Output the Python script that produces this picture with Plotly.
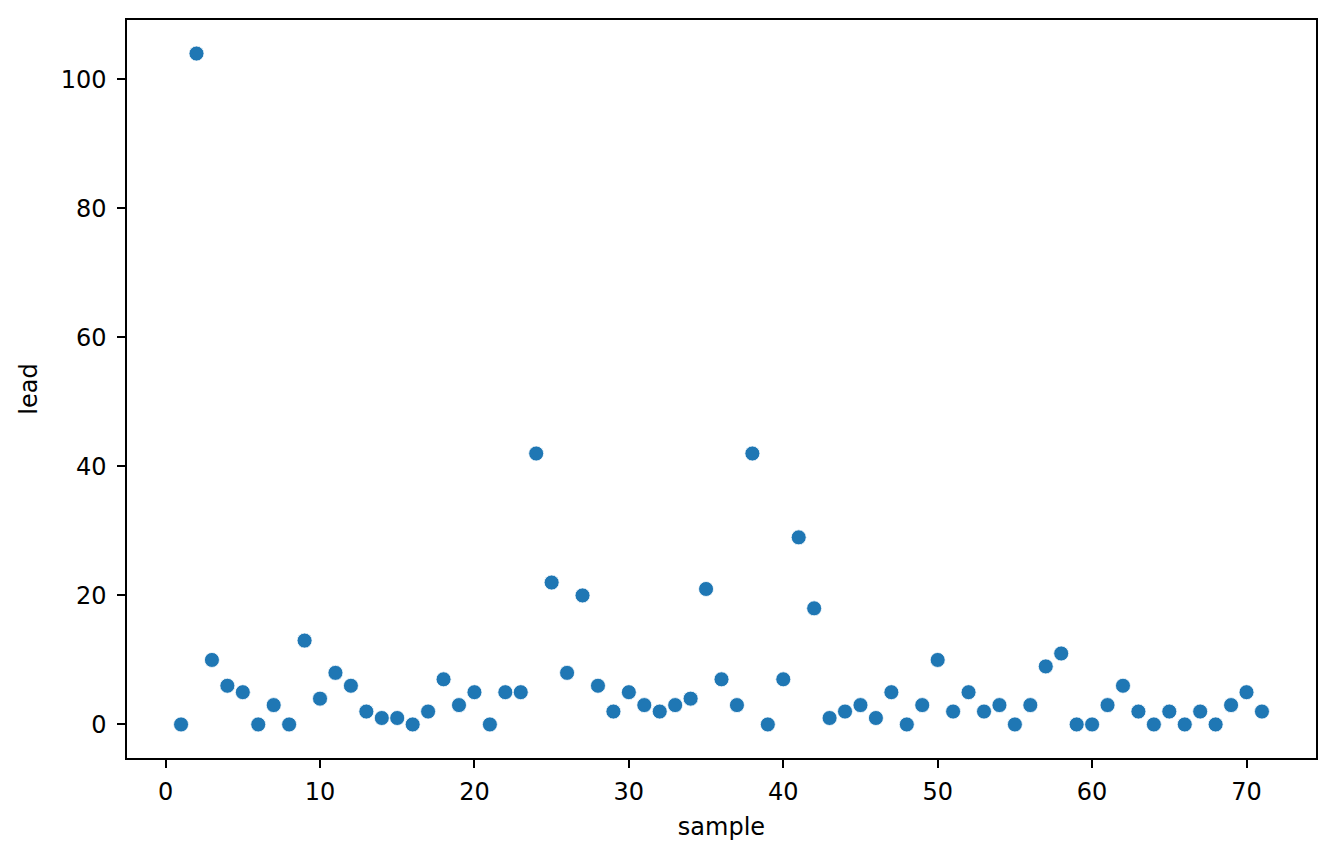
import plotly.graph_objects as go

sample = list(range(1, 72))
lead = [0, 104, 10, 6, 5, 0, 3, 0, 13, 4,
        8, 6, 2, 1, 1, 0, 2, 7, 3, 5,
        0, 5, 5, 42, 22, 8, 20, 6, 2, 5,
        3, 2, 3, 4, 21, 7, 3, 42, 0, 7,
        29, 18, 1, 2, 3, 1, 5, 0, 3, 10,
        2, 5, 2, 3, 0, 3, 9, 11, 0, 0,
        3, 6, 2, 0, 2, 0, 2, 0, 3, 5, 2]

x_ticks = [0, 10, 20, 30, 40, 50, 60, 70]
y_ticks = [0, 20, 40, 60, 80, 100]

FONT = dict(family="DejaVu Sans", size=24, color="black")

fig = go.Figure(go.Scatter(
    x=sample, y=lead, mode="markers",
    marker=dict(color="#1f77b4", size=15, line=dict(color="white", width=0.8)),
    showlegend=False,
))

axis_common = dict(
    showline=True, linecolor="black", linewidth=1.5, mirror=True,
    ticks="outside", ticklen=8, tickwidth=1.5, tickcolor="black",
    showgrid=False, zeroline=False,
    tickfont=FONT,
)

fig.update_xaxes(range=[-2.5, 74.5], tickvals=x_ticks, ticklabelstandoff=3,
                 title=dict(text="sample", font=FONT, standoff=14),
                 **axis_common)
fig.update_yaxes(range=[-5.2, 109.2], tickvals=y_ticks, ticklabelstandoff=6,
                 title=dict(text="lead", font=FONT, standoff=16),
                 **axis_common)

fig.update_layout(
    width=1335, height=858,
    margin=dict(l=119, r=27, t=10, b=108),
    plot_bgcolor="white", paper_bgcolor="white",
    font=dict(family="DejaVu Sans", color="black"),
)

fig.write_html("out.html")
